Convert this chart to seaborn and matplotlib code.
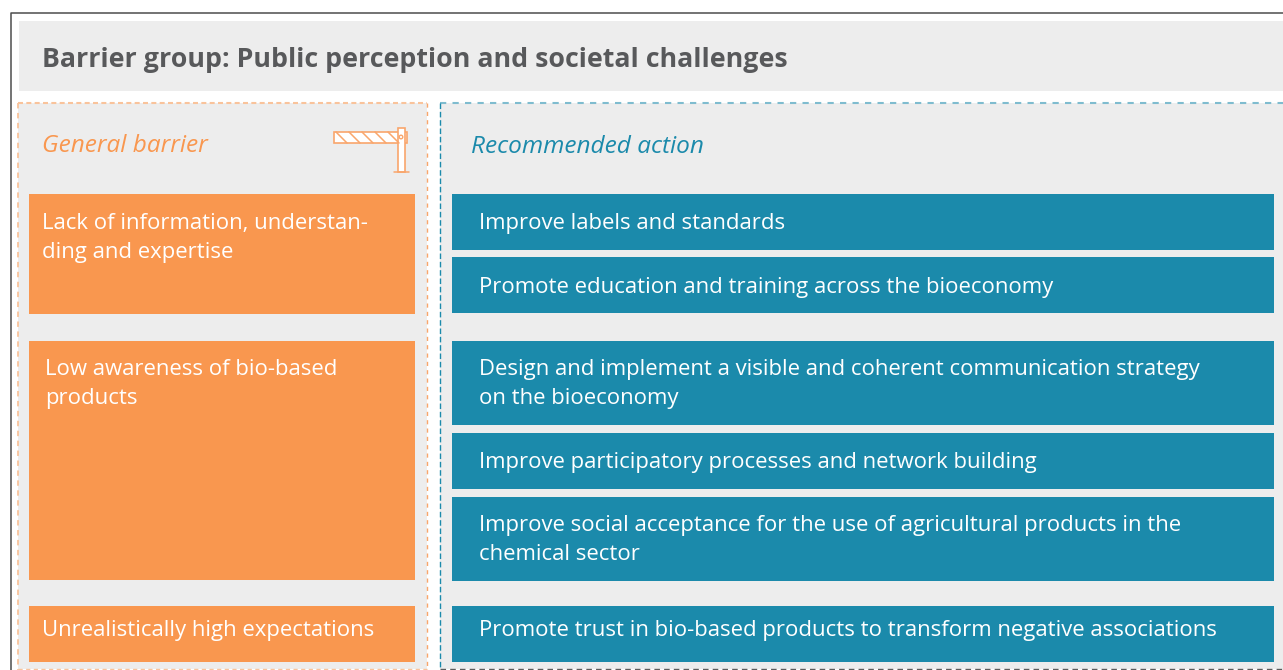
import matplotlib
import matplotlib.pyplot as plt
import seaborn as sns
from matplotlib.patches import Rectangle, Circle
matplotlib.use('Agg')

title = 'Barrier group: Public perception and societal challenges'
left_heading = 'General barrier'
right_heading = 'Recommended action'

barriers = [
    ['Lack of information, understan-', 'ding and expertise'],
    ['Low awareness of bio-based', 'products'],
    ['Unrealistically high expectations'],
]
actions = [
    ['Improve labels and standards'],
    ['Promote education and training across the bioeconomy'],
    ['Design and implement a visible and coherent communication strategy', 'on the bioeconomy'],
    ['Improve participatory processes and network building'],
    ['Improve social acceptance for the use of agricultural products in the', 'chemical sector'],
    ['Promote trust in bio-based products to transform negative associations'],
]

# layout in pixels (top, bottom, text x, first baseline)
barrier_boxes = [(194, 314, 42, 229), (341, 580, 45, 375), (606, 662, 42, 636)]
action_boxes = [(194, 250, 229), (257, 313, 293), (341, 425, 375),
                (433, 489, 468), (497, 581, 531), (606, 662, 636)]

ORANGE = '#f9974f'
TEAL = '#1b8aab'
GREY = '#ededed'
ICON = '#f9a66c'
LINE_STEP = 29

sns.set_theme(style='white')
plt.rcParams['font.family'] = ['Open Sans', 'DejaVu Sans']

W, H = 1283, 670
fig = plt.figure(figsize=(W / 100, H / 100), dpi=100)
ax = fig.add_axes([0, 0, 1, 1])
ax.set_xlim(0, W)
ax.set_ylim(H, 0)
ax.axis('off')


def box(x0, y0, x1, y1, **kw):
    ax.add_patch(Rectangle((x0, y0), x1 - x0, y1 - y0, **kw))


def write_lines(x, y, lines):
    for i, line_text in enumerate(lines):
        ax.text(x, y + i * LINE_STEP, line_text, fontsize=15.9, color='white', va='baseline')


# outer frame
ax.plot([11, 11, W], [H, 13, 13], color='#4d4d4d', lw=1.1)

# title band
box(19, 21, W, 91, color=GREY, lw=0)
ax.text(42, 60, title, fontsize=19.25, fontweight='bold', color='#58595b', va='center')

# panels
box(18, 103, 427, 669, color=GREY, lw=0)
box(440, 103, W, 669, color=GREY, lw=0)
ax.plot([18, 427], [103, 103], color='#f9c39b', lw=1.5, ls=(0, (2.4, 1.6)))
ax.plot([18, 18], [103, H], color='#f9c39b', lw=1.3, ls=(0, (3, 2.5)))
ax.plot([18, 427], [669, 669], color='#f9c39b', lw=1.0, ls=(0, (3, 2.5)))
ax.plot([427, 427], [103, H], color='#f9a66c', lw=1.0, ls=(0, (3, 3)))
ax.plot([440, W], [103, 103], color='#7fbccf', lw=1.5, ls=(0, (3, 3)))
ax.plot([439.5, 439.5], [103, H], color=TEAL, lw=1.0, ls=(0, (4, 2)))
ax.plot([440, W], [669, 669], color='#5d5d5d', lw=1.0, ls=(0, (4, 3)))

ax.text(42, 146, left_heading, fontsize=17.6, style='italic', color=ORANGE, va='center')
ax.text(471, 147, right_heading, fontsize=17.6, style='italic', color=TEAL, va='center')

# barrier icon
line = dict(color=ICON, lw=1.1)
box(334, 132, 407, 143, facecolor='white', edgecolor=ICON, lw=1.2)
for x in range(336, 394, 13):
    ax.plot([x, x + 11], [132, 143], **line)
box(398, 128, 405, 172, facecolor='white', edgecolor=ICON, lw=1.2)
ax.plot([394, 409], [172, 172], **line)
ax.add_patch(Circle((401, 137), 1.8, facecolor='white', edgecolor=ICON, lw=1))

# boxes
for lines, (top, bottom, tx, base) in zip(barriers, barrier_boxes):
    box(29, top, 415, bottom, color=ORANGE, lw=0)
    write_lines(tx, base, lines)

for lines, (top, bottom, base) in zip(actions, action_boxes):
    box(452, top, 1274, bottom, color=TEAL, lw=0)
    write_lines(479, base, lines)

plt.savefig('out.png', dpi=100)
